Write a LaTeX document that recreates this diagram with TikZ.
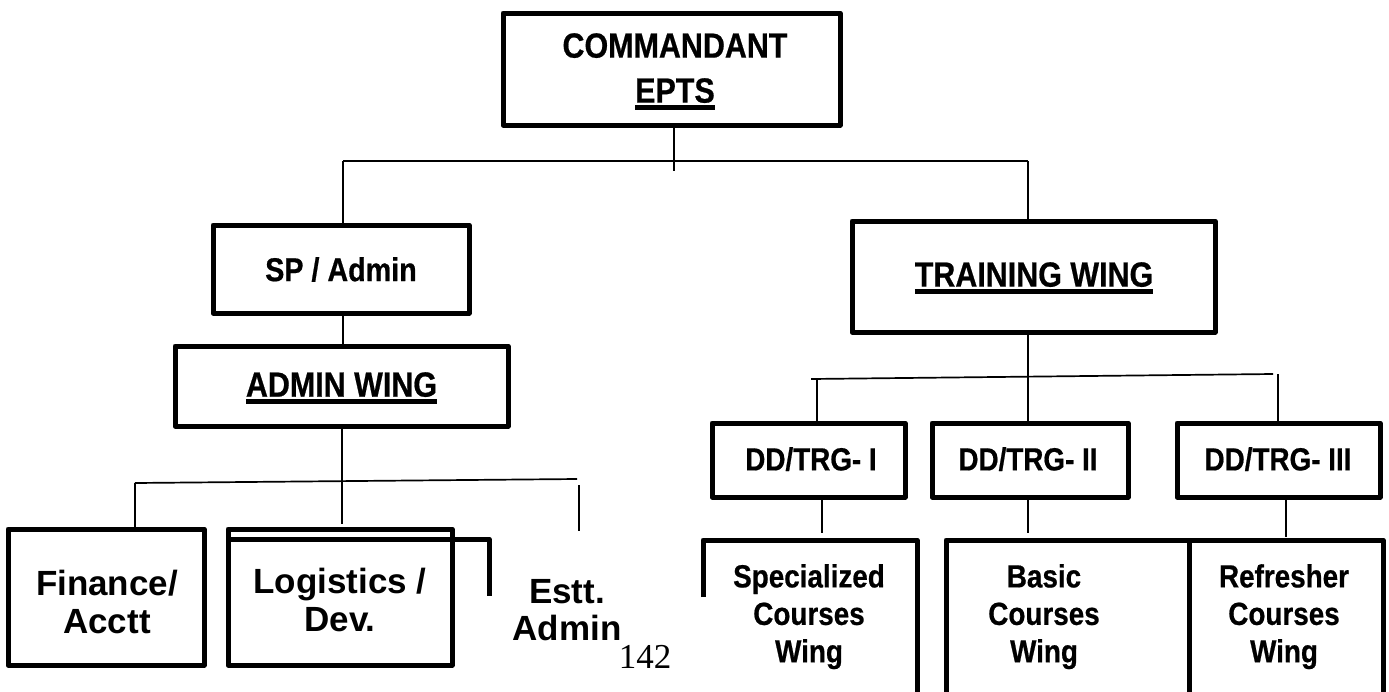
\documentclass[tikz,border=0pt]{standalone}
\usepackage{fontspec}
\setmainfont{Liberation Sans}
\newfontfamily\narrowfont{Liberation Sans}[FakeStretch=0.87,BoldFeatures={FakeBold=0.6}]
\newfontfamily\widefont{Liberation Sans}
\newfontfamily\pagefont{Liberation Serif}
\newsavebox\ulbox
\newcommand\ulbar[1]{\sbox\ulbox{#1}\rlap{\rule[-7pt]{\wd\ulbox}{4.3pt}}\usebox\ulbox}
\tikzset{
  box/.style={draw, line width=5pt, line join=round, inner sep=0pt},
  openbox/.style={line width=5pt, line join=round},
  conn/.style={line width=1.7pt},
  txt/.style={anchor=north, inner sep=0pt, align=center},
  nbig/.style={font=\narrowfont\bfseries\fontsize{35}{45}\selectfont},
  nmid/.style={font=\narrowfont\bfseries\fontsize{33}{40}\selectfont},
  nsmall/.style={font=\narrowfont\bfseries\fontsize{32}{37.5}\selectfont},
  wide/.style={font=\widefont\bfseries\fontsize{35}{37.5}\selectfont},
}
\begin{document}
\begin{tikzpicture}[x=1pt,y=-1pt]
\path[use as bounding box, fill=white] (0,0) rectangle (1389,691);

% boxes
\node[box, minimum width=337pt, minimum height=112pt] (cmd) at (671.5,69) {};
\node[box, minimum width=256pt, minimum height=88pt] (sp) at (341,269) {};
\node[box, minimum width=363pt, minimum height=111pt] (tw) at (1033.5,276.5) {};
\node[box, minimum width=333pt, minimum height=80pt] (aw) at (341.5,386) {};
\node[box, minimum width=196pt, minimum height=136pt] (fin) at (106,597) {};
\node[box, minimum width=224pt, minimum height=136pt] (log) at (340,597) {};
\node[box, minimum width=193pt, minimum height=74pt] (dd1) at (808.5,460) {};
\node[box, minimum width=196pt, minimum height=74pt] (dd2) at (1030,460) {};
\node[box, minimum width=203pt, minimum height=74pt] (dd3) at (1278.5,460) {};

% texts
\node[txt, nbig] (cmd-t) at (675,33) {COMMANDANT\\\ulbar{EPTS}};
\node[txt, nmid] (sp-t) at (341,257) {SP / Admin};
\node[txt, nbig] (tw-t) at (1034,262) {\ulbar{TRAINING WING}};
\node[txt, nbig] (aw-t) at (341.5,372) {\ulbar{ADMIN WING}};
\node[txt, wide] (fin-t) at (107,570) {Finance/\\Acctt};
\node[txt, wide] (log-t) at (340,568) {Logistics /\\Dev.};
\node[txt, wide] (est-t) at (567,579) {Estt.\\Admin};
\node[txt, nsmall] (dd1-t) at (811,447) {DD/TRG- I};
\node[txt, nsmall] (dd2-t) at (1028,447) {DD/TRG- II};
\node[txt, nsmall] (dd3-t) at (1278,447) {DD/TRG- III};
\node[txt, nsmall] (spec-t) at (809,564) {Specialized\\Courses\\Wing};
\node[txt, nsmall] (basic-t) at (1044,564) {Basic\\Courses\\Wing};
\node[txt, nsmall] (ref-t) at (1284,564) {Refresher\\Courses\\Wing};
\node[txt, font=\pagefont\fontsize{35}{40}\selectfont] (pg) at (645,645) {142};

% top level connectors
\coordinate (c1) at (674,171);
\coordinate (bl) at (343,161);
\coordinate (br) at (1028,161);
\draw[conn] (cmd.south -| c1) -- (c1);
\draw[conn] (bl) -- (br);
\draw[conn] (bl) -- (bl |- sp.north);
\draw[conn] (br) -- (br |- tw.north);
\draw[conn] (sp.south -| bl) -- (aw.north -| bl);

% admin wing branch
\coordinate (am) at (342,524);
\coordinate (lb1) at (135,483);
\coordinate (lb2) at (577,479);
\coordinate (es1) at (579,485);
\coordinate (es2) at (579,531);
\draw[conn] (aw.south -| am) -- (am);
\draw[conn] (lb1) -- (lb2);
\draw[conn] (lb1) -- (lb1 |- fin.north);
\draw[conn] (es1) -- (es2);
\coordinate (eb1) at (228,596);
\coordinate (eb2) at (228,539);
\coordinate (eb3) at (489,539);
\coordinate (eb4) at (489,596);
\draw[openbox] (eb1) -- (eb2) -- (eb3) -- (eb4);

% training wing branch
\coordinate (tc) at (1028,376);
\coordinate (tb1) at (811,379);
\coordinate (tb2) at (1273,374);
\coordinate (t1) at (817,379);
\coordinate (t3) at (1278,374);
\draw[conn] (tw.south -| tc) -- (dd2.north -| tc);
\draw[conn] (tb1) -- (tb2);
\draw[conn] (t1) -- (t1 |- dd1.north);
\draw[conn] (t3) -- (t3 |- dd3.north);
\coordinate (s1) at (822,533);
\coordinate (s2) at (1028,533);
\coordinate (s3) at (1286,537);
\draw[conn] (dd1.south -| s1) -- (s1);
\draw[conn] (dd2.south -| s2) -- (s2);
\draw[conn] (dd3.south -| s3) -- (s3);

% bottom open boxes
\coordinate (sa) at (703,597);
\coordinate (sb) at (703,540);
\coordinate (sc) at (917,540);
\coordinate (sd) at (917,694);
\draw[openbox] (sa) -- (sb) -- (sc) -- (sd);
\coordinate (ba) at (946,694);
\coordinate (bb) at (946,540);
\coordinate (bc) at (1383,540);
\coordinate (bd) at (1383,694);
\coordinate (bm1) at (1189,540);
\coordinate (bm2) at (1189,694);
\draw[openbox] (ba) -- (bb) -- (bc) -- (bd);
\draw[openbox] (bm1) -- (bm2);
\end{tikzpicture}
\end{document}
